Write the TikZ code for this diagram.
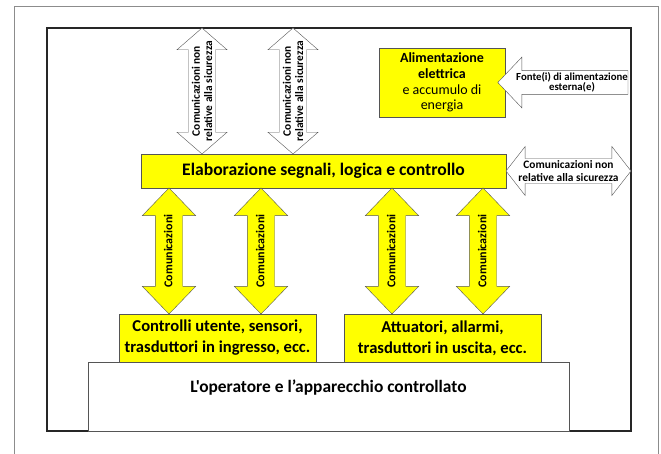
\documentclass[tikz,border=0pt]{standalone}
\usepackage{fontspec}
\setmainfont{Carlito}[Ligatures=TeXOff]
\usetikzlibrary{shapes.arrows,shadows}
\definecolor{boxyellow}{RGB}{255,255,0}
\definecolor{edgegray}{RGB}{85,85,85}
\definecolor{framegray}{RGB}{140,140,140}

\begin{document}
\begin{tikzpicture}[x=1pt,y=-1pt,
  ybox/.style={draw=edgegray,fill=boxyellow,inner sep=0pt,align=center,
    drop shadow={shadow xshift=1.2pt,shadow yshift=-1.2pt,opacity=.3}},
  comarrow/.style={double arrow,draw=edgegray,fill=boxyellow,rotate=90,
    double arrow head extend=13pt,double arrow tip angle=88,
    minimum height=126pt,inner xsep=0pt,inner ysep=7.75pt,
    text height=9pt,text depth=2.5pt,
    font=\fontsize{12}{14}\selectfont\bfseries},
  extarrow/.style={double arrow,draw=edgegray,fill=white,align=center,
    inner xsep=0pt,font=\fontsize{11.4}{12.2}\selectfont\bfseries}
]
\useasboundingbox (0,0) rectangle (661,454);

% frames
\draw[framegray,line width=.6pt] (14,454) -- (14,6) -- (658,6) -- (658,454);
\draw[black!85,line width=1.3pt] (47,28) rectangle (631,431);

% blocks
\node[ybox,minimum width=365pt,minimum height=34pt,
  font=\fontsize{17.6}{21}\selectfont\bfseries] (elab) at (323.5,171)
  {Elaborazione segnali, logica e controllo};
\node[ybox,minimum width=126pt,minimum height=69pt,
  font=\fontsize{14}{15.6}\selectfont] (alim) at (442,82.5)
  {\textbf{Alimentazione}\\\textbf{elettrica}\\e accumulo di\\energia};
\node[ybox,minimum width=197pt,minimum height=48pt,
  font=\fontsize{16.6}{21}\selectfont\bfseries] (ctrl) at (217.5,338)
  {Controlli utente, sensori,\\trasduttori in ingresso, ecc.};
\node[ybox,minimum width=197pt,minimum height=48pt,
  font=\fontsize{16.6}{21}\selectfont\bfseries] (att) at (442.5,338)
  {Attuatori, allarmi,\\trasduttori in uscita, ecc.};
\node[draw=edgegray,fill=white,minimum width=481pt,minimum height=69pt] (op)
  at (328.5,396.5) {};
\node[font=\fontsize{17.4}{21}\selectfont\bfseries] (optxt) at (328.5,388)
  {L'operatore e l’apparecchio controllato};

% communications
\node[comarrow] (c1) at (169,251) {Comunicazioni};
\node[comarrow] (c2) at (261,251) {Comunicazioni};
\node[comarrow] (c3) at (392,251) {Comunicazioni};
\node[comarrow] (c4) at (483,251) {Comunicazioni};

\node[extarrow,rotate=90,minimum height=126pt,inner ysep=3.2pt,
  double arrow head extend=11.5pt,double arrow tip angle=98] (n1) at (202,91)
  {Comunicazioni non\\relative alla sicurezza};
\node[extarrow,rotate=90,minimum height=126pt,inner ysep=3.2pt,
  double arrow head extend=11.5pt,double arrow tip angle=98] (n2) at (293,91)
  {Comunicazioni non\\relative alla sicurezza};
\node[extarrow,minimum height=125pt,inner ysep=2.2pt,
  double arrow head extend=12pt,double arrow tip angle=104] (n3) at (568.5,171)
  {Comunicazioni non\\relative alla sicurezza};

% external supply
\node[single arrow,shape border rotate=180,draw=edgegray,fill=white,align=center,
  minimum height=125pt,inner xsep=0pt,inner ysep=1.8pt,
  single arrow head extend=13.5pt,single arrow tip angle=93,
  font=\fontsize{10.8}{10}\selectfont\bfseries] (src) at (568.5,82.5)
  {\hspace*{7pt}Fonte(i) di alimentazione\\\hspace*{7pt}esterna(e)};

\end{tikzpicture}
\end{document}
